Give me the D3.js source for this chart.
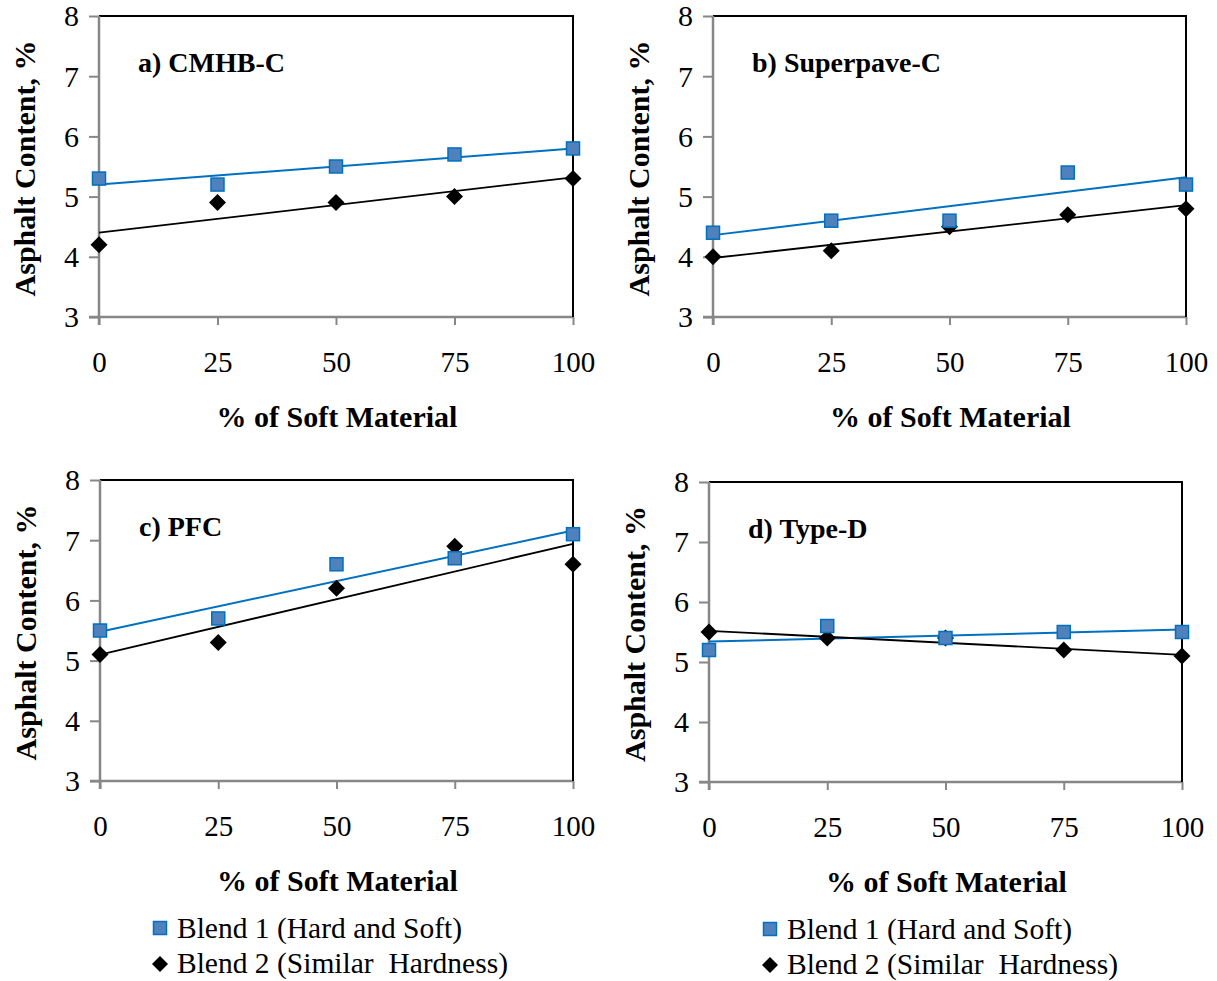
<!DOCTYPE html>
<html><head><meta charset="utf-8">
<script src="https://cdn.jsdelivr.net/npm/d3@7"></script>
<style>
body{margin:0;background:#fff}
svg{display:block}
svg text{font-family:"Liberation Serif","Times New Roman",Times,"Nimbus Roman","DejaVu Serif",serif !important}
</style></head>
<body>
<script>
const xValues = [0, 25, 50, 75, 100];
const yTicks = [3, 4, 5, 6, 7, 8];
const panelTitles = ["a) CMHB-C", "b) Superpave-C", "c) PFC", "d) Type-D"];
const blend1 = {
  a: [5.3, 5.2, 5.5, 5.7, 5.8],
  b: [4.4, 4.6, 4.6, 5.4, 5.2],
  c: [5.5, 5.7, 6.6, 6.7, 7.1],
  d: [5.2, 5.6, 5.4, 5.5, 5.5]
};
const blend2 = {
  a: [4.2, 4.9, 4.9, 5.0, 5.3],
  b: [4.0, 4.1, 4.5, 4.7, 4.8],
  c: [5.1, 5.3, 6.2, 6.9, 6.6],
  d: [5.5, 5.4, 5.4, 5.2, 5.1]
};
const seriesNames = ["Blend 1 (Hard and Soft)", "Blend 2 (Similar  Hardness)"];
const xTitle = "% of Soft Material";
const yTitle = "Asphalt Content, %";

const panels = [
  {key:"a", L:99,  R:573,  T:16,  B:317},
  {key:"b", L:713, R:1186, T:16,  B:317},
  {key:"c", L:100, R:573,  T:480, B:781},
  {key:"d", L:709, R:1182, T:482, B:782}
];
const legends = [
  {x:160, y:928},
  {x:770, y:929}
];

const BLUE = "#0070C0", FILL = "#4F81BD", GRAY = "#878787";
const FONT = '"Liberation Serif","Times New Roman",Times,"Nimbus Roman","DejaVu Serif",serif';

const svg = d3.select("body").append("svg").attr("width",1217).attr("height",981);

function fit(xs, ys){
  const n = xs.length, mx = d3.mean(xs), my = d3.mean(ys);
  let num=0, den=0;
  for(let i=0;i<n;i++){num+=(xs[i]-mx)*(ys[i]-my);den+=(xs[i]-mx)**2;}
  const s = num/den;
  return x => my + s*(x-mx);
}

panels.forEach((p,i)=>{
  const w = p.R-p.L, h = p.B-p.T;
  const g = svg.append("g").attr("transform",`translate(${p.L},${p.T})`).attr("font-family",FONT);
  const x = d3.scaleLinear().domain([0,100]).range([0,w]);
  const y = d3.scaleLinear().domain([3,8]).range([h,0]);

  g.append("path").attr("d",`M0,0H${w}V${h}`).attr("fill","none").attr("stroke","#000").attr("stroke-width",2);

  const ya = g.append("g").call(d3.axisLeft(y).tickValues(yTicks).tickSize(10).tickPadding(10).tickFormat(d3.format("d")));
  ya.attr("font-family",FONT);
  ya.select(".domain").attr("stroke",GRAY).attr("stroke-width",2.5).attr("d",`M0,${h+8}V0`);
  ya.selectAll(".tick line").attr("stroke",GRAY).attr("stroke-width",2);
  ya.selectAll("text").attr("font-size",30).attr("fill","#000").attr("dy","0.33em");

  const xa = g.append("g").attr("transform",`translate(0,${h})`)
    .call(d3.axisBottom(x).tickValues(xValues).tickSize(8).tickFormat(d3.format("d")));
  xa.attr("font-family",FONT);
  xa.select(".domain").attr("stroke",GRAY).attr("stroke-width",2.5).attr("d",`M-10,0H${w}`);
  xa.selectAll(".tick line").attr("stroke",GRAY).attr("stroke-width",2);
  xa.selectAll("text").attr("font-size",29).attr("fill","#000").attr("y",45).attr("dy","0.35em");

  g.append("line").attr("x1",w).attr("x2",w).attr("y1",0).attr("y2",h).attr("stroke","#000").attr("stroke-width",2);

  g.append("text").attr("x",w/2+1).attr("y",h+99).attr("dy","0.35em").attr("text-anchor","middle")
    .attr("font-weight","bold").attr("font-size",30).text(xTitle);
  g.append("text").attr("transform",`translate(${-75},${h/2+2}) rotate(-90)`).attr("dy","0.35em").attr("text-anchor","middle")
    .attr("font-weight","bold").attr("font-size",30).text(yTitle);
  g.append("text").attr("x",39).attr("y",46).attr("dy","0.35em")
    .attr("font-weight","bold").attr("font-size",28).text(panelTitles[i]);

  const b1 = blend1[p.key], b2 = blend2[p.key];
  const f1 = fit(xValues,b1), f2 = fit(xValues,b2);
  const line = d3.line().x(d=>x(d[0])).y(d=>y(d[1]));
  g.append("path").attr("d",line([[0,f1(0)],[100,f1(100)]])).attr("stroke",BLUE).attr("stroke-width",2).attr("fill","none");
  g.append("path").attr("d",line([[0,f2(0)],[100,f2(100)]])).attr("stroke","#000").attr("stroke-width",1.8).attr("fill","none");

  g.selectAll(".d").data(xValues.map((v,k)=>[v,b2[k]])).join("path")
    .attr("transform",d=>`translate(${x(d[0])},${y(d[1])})`)
    .attr("d","M0,-8.5L8.5,0L0,8.5L-8.5,0Z").attr("fill","#000");
  g.selectAll(".s").data(xValues.map((v,k)=>[v,b1[k]])).join("rect")
    .attr("x",d=>x(d[0])-6.5).attr("y",d=>y(d[1])-6.5).attr("width",13).attr("height",13)
    .attr("fill",FILL).attr("stroke",BLUE).attr("stroke-width",1.5);
});

legends.forEach(l=>{
  const g = svg.append("g").attr("transform",`translate(${l.x},${l.y})`).attr("font-family",FONT);
  g.append("rect").attr("x",-6.5).attr("y",-6.5).attr("width",13).attr("height",13)
    .attr("fill",FILL).attr("stroke",BLUE).attr("stroke-width",1.5);
  g.append("text").attr("x",17).attr("y",0).attr("dy","0.33em").attr("font-size",29.5).attr("style","white-space:pre").text(seriesNames[0]);
  g.append("path").attr("transform","translate(0,36)").attr("d","M0,-8L8,0L0,8L-8,0Z").attr("fill","#000");
  g.append("text").attr("x",17).attr("y",36).attr("dy","0.3em").attr("font-size",29.5).attr("style","white-space:pre").text(seriesNames[1]);
});
</script>
</body></html>
